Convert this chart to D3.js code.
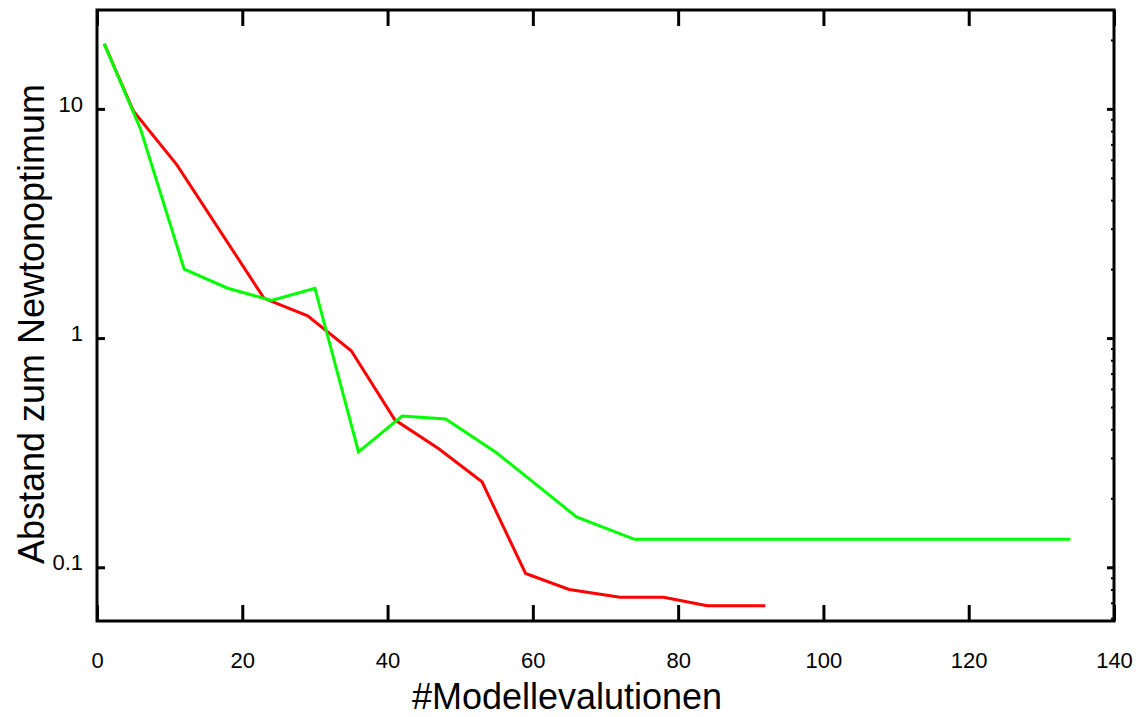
<!DOCTYPE html>
<html>
<head>
<meta charset="utf-8">
<script src="https://cdn.jsdelivr.net/npm/d3@7"></script>
<style>
  html, body { margin: 0; padding: 0; background: #fff; }
  svg { display: block; font-family: "Liberation Sans", Arial, sans-serif; }
</style>
</head>
<body>
<svg id="chart" width="1139" height="717"></svg>
<script>
// Axis ticks
const xTicks = [0, 20, 40, 60, 80, 100, 120, 140];
const yTicks = [0.1, 1, 10];
const yTickLabels = ["0.1", "1", "10"];
const yMinorTicks = [0.06, 0.07, 0.08, 0.09, 0.2, 0.3, 0.4, 0.5, 0.6, 0.7, 0.8, 0.9,
                     2, 3, 4, 5, 6, 7, 8, 9, 20];

// Series: distance to the Newton optimum vs. number of model evaluations
const redX = [1, 5, 11, 23, 29, 35, 41, 47, 53, 59, 65, 72, 78, 84, 92];
const redY = [19.2, 9.8, 5.7, 1.49, 1.25, 0.88, 0.44, 0.33, 0.236, 0.094, 0.080, 0.074, 0.074, 0.068, 0.068];
const greenX = [1, 6, 12, 18, 24, 30, 36, 42, 48, 55, 66, 74, 134];
const greenY = [19.2, 8.15, 2.0, 1.65, 1.46, 1.65, 0.319, 0.457, 0.444, 0.316, 0.166, 0.1325, 0.1325];

const svg = d3.select("#chart");
const plotLeft = 97, plotRight = 1114, plotTop = 10, plotBottom = 621;

const x = d3.scaleLinear().domain([0, 140]).range([plotLeft, plotRight]);
const y = d3.scaleLog().domain([0.0583, 27.0]).range([plotBottom, plotTop]);

// Bottom axis: inward ticks with labels
const gBottom = svg.append("g")
  .attr("transform", `translate(0,${plotBottom})`)
  .call(d3.axisBottom(x).tickValues(xTicks).tickSize(-16).tickSizeOuter(0).tickPadding(31)
        .tickFormat(d3.format("d")));

// Top axis: inward ticks only
const gTop = svg.append("g")
  .attr("transform", `translate(0,${plotTop})`)
  .call(d3.axisTop(x).tickValues(xTicks).tickSize(-16).tickSizeOuter(0).tickFormat(""));

// Left axis: major ticks with labels
const gLeft = svg.append("g")
  .attr("transform", `translate(${plotLeft},0)`)
  .call(d3.axisLeft(y).tickValues(yTicks).tickSize(-8).tickSizeOuter(0).tickPadding(14)
        .tickFormat((d, i) => yTickLabels[i]));

// Right axis: major and minor inward ticks
const gRight = svg.append("g")
  .attr("transform", `translate(${plotRight},0)`)
  .call(d3.axisRight(y).tickValues(yTicks).tickSize(-7).tickSizeOuter(0).tickFormat(""));
const gRightMinor = svg.append("g")
  .attr("transform", `translate(${plotRight},0)`)
  .call(d3.axisRight(y).tickValues(yMinorTicks).tickSize(-3).tickSizeOuter(0).tickFormat(""));

[gBottom, gTop, gLeft, gRight, gRightMinor].forEach(g => {
  g.select(".domain").remove();
  g.selectAll(".tick line").attr("stroke", "#000").attr("stroke-width", 3);
});
gRightMinor.selectAll(".tick line").attr("stroke-width", 2);

gBottom.selectAll(".tick text")
  .attr("font-size", 22).attr("fill", "#000")
  .attr("font-family", "Liberation Sans, Arial, sans-serif");
gLeft.selectAll(".tick text")
  .attr("font-size", 22).attr("fill", "#000").attr("dy", "0.1em")
  .attr("font-family", "Liberation Sans, Arial, sans-serif");

// Frame
svg.append("rect")
  .attr("x", plotLeft).attr("y", plotTop)
  .attr("width", plotRight - plotLeft).attr("height", plotBottom - plotTop)
  .attr("fill", "none").attr("stroke", "#000").attr("stroke-width", 3);

// Lines
const line = d3.line().x(d => x(d[0])).y(d => y(d[1]));

svg.append("path")
  .datum(redX.map((v, i) => [v, redY[i]]))
  .attr("d", line)
  .attr("fill", "none").attr("stroke", "#ff0000").attr("stroke-width", 3)
  .attr("stroke-linejoin", "miter");

svg.append("path")
  .datum(greenX.map((v, i) => [v, greenY[i]]))
  .attr("d", line)
  .attr("fill", "none").attr("stroke", "#00ff00").attr("stroke-width", 3)
  .attr("stroke-linejoin", "miter");

// Axis titles
svg.append("text")
  .attr("x", 567).attr("y", 709)
  .attr("text-anchor", "middle").attr("font-size", 36).attr("fill", "#000")
  .text("#Modellevalutionen");

svg.append("text")
  .attr("transform", "translate(44,324) rotate(-90)")
  .attr("text-anchor", "middle").attr("font-size", 36).attr("fill", "#000")
  .text("Abstand zum Newtonoptimum");
</script>
</body>
</html>
